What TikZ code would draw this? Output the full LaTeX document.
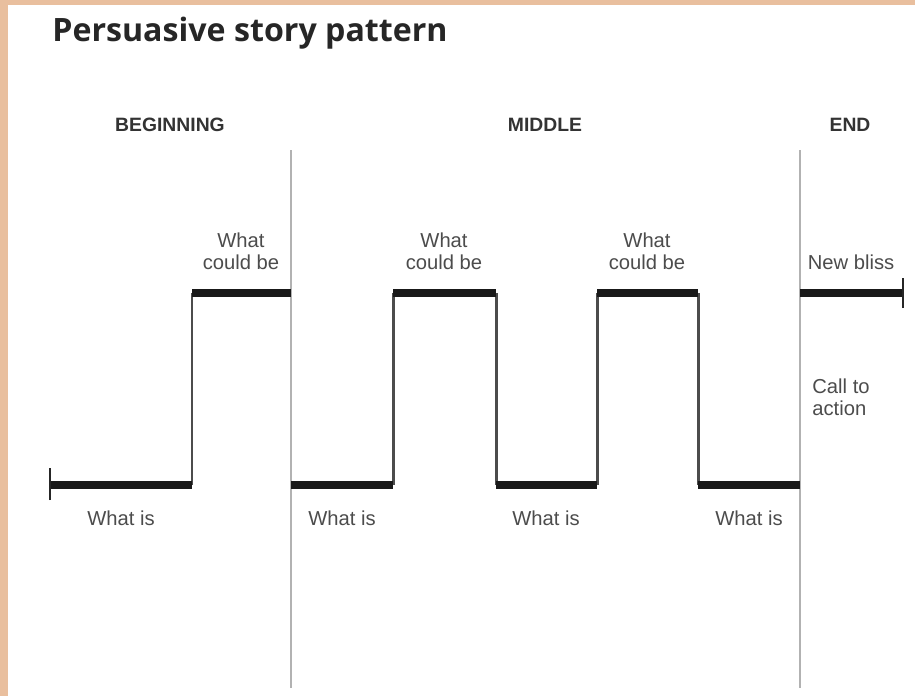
\documentclass[tikz,border=0pt]{standalone}
\usepackage{fontspec}
\setmainfont{Liberation Sans}
\newfontfamily\titlefont{Open Sans}
\definecolor{peach}{HTML}{E9BF9E}

\begin{document}
\begin{tikzpicture}[
    x=0.02cm, y=-0.02cm,
    label/.style={font=\fontsize{11.5}{12.5}\selectfont, text=black!70, align=center, inner sep=0pt},
    heading/.style={font=\bfseries\fontsize{11}{12}\selectfont, text=black!80, inner sep=0pt},
    level/.style={line width=4.2pt, black!90},
    riser/.style={line width=1.7pt, black!70},
    divider/.style={line width=1.4pt, black!30},
    endtick/.style={line width=1.1pt, black!85}
]
    % Frame
    \fill[peach] (0,0) rectangle (915,696);
    \fill[white] (8,5) rectangle (915,696);

    % Title and section headings
    \node[font=\titlefont\bfseries\fontsize{18.3}{22}\selectfont, text=black!85, anchor=base west, inner sep=0pt] (title) at (52,42) {Persuasive story pattern};
    \node[heading] (begin) at (170,125) {BEGINNING};
    \node[heading] (middle) at (545,125) {MIDDLE};
    \node[heading] (end) at (850,125) {END};

    % Corners of the story line
    \coordinate (a0) at (50,485);
    \coordinate (a1) at (192,485);
    \coordinate (b1) at (192,293);
    \coordinate (b2) at (291,293);
    \coordinate (a2) at (291,485);
    \coordinate (a3) at (393,485);
    \coordinate (b3) at (393,293);
    \coordinate (b4) at (496,293);
    \coordinate (a4) at (496,485);
    \coordinate (a5) at (597,485);
    \coordinate (b5) at (597,293);
    \coordinate (b6) at (698,293);
    \coordinate (a6) at (698,485);
    \coordinate (a7) at (800,485);
    \coordinate (b7) at (800,293);
    \coordinate (b8) at (903,293);

    % Rises and falls
    \draw[riser] (a1) -- (b1);
    \draw[riser] (a3) -- (b3);
    \draw[riser] (b4) -- (a4);
    \draw[riser] (a5) -- (b5);
    \draw[riser] (b6) -- (a6);

    % Section dividers
    \coordinate (d1top) at (291,150);
    \coordinate (d1bot) at (291,688);
    \coordinate (d2top) at (800,150);
    \coordinate (d2bot) at (800,688);
    \draw[divider] (d1top) -- (d1bot);
    \draw[divider] (d2top) -- (d2bot);

    % Levels
    \draw[level] (a0) -- (a1);
    \draw[level] (b1) -- (b2);
    \draw[level] (a2) -- (a3);
    \draw[level] (b3) -- (b4);
    \draw[level] (a4) -- (a5);
    \draw[level] (b5) -- (b6);
    \draw[level] (a6) -- (a7);
    \draw[level] (b7) -- (b8);

    % End ticks
    \draw[endtick] ([yshift=-15*0.02cm]a0) -- ([yshift=17*0.02cm]a0);
    \draw[endtick] ([yshift=-15*0.02cm]b8) -- ([yshift=15*0.02cm]b8);

    % Labels
    \node[label] (is1) at (121,518) {What is};
    \node[label] (is2) at (342,518) {What is};
    \node[label] (is3) at (546,518) {What is};
    \node[label] (is4) at (749,518) {What is};
    \node[label] (could1) at (241,251) {What\\could be};
    \node[label] (could2) at (444,251) {What\\could be};
    \node[label] (could3) at (647,251) {What\\could be};
    \node[label] (bliss) at (851,262) {New bliss};
    \node[label, align=left, anchor=west] (call) at (812,397) {Call to\\action};
\end{tikzpicture}
\end{document}
